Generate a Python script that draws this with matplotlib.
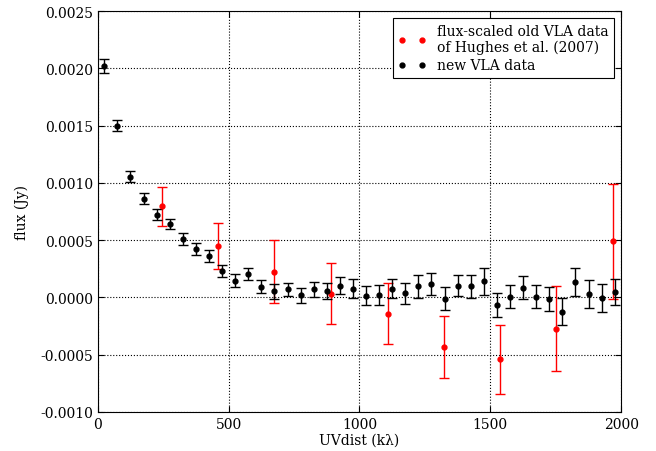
import matplotlib
matplotlib.use("Agg")
import matplotlib.pyplot as plt
from matplotlib.lines import Line2D

plt.rcParams['font.family'] = ['DejaVu Serif']
plt.rcParams['xtick.direction'] = 'in'
plt.rcParams['ytick.direction'] = 'in'
plt.rcParams['xtick.top'] = True
plt.rcParams['ytick.right'] = True

# new VLA data
uv_new = [25, 75, 125, 175, 225, 275, 325, 375, 425, 475,
          525, 575, 625, 675, 725, 775, 825, 875, 925, 975,
          1025, 1075, 1125, 1175, 1225, 1275, 1325, 1375, 1425, 1475,
          1525, 1575, 1625, 1675, 1725, 1775, 1825, 1875, 1925, 1975]
flux_new = [0.00202, 0.00150, 0.001055, 0.00086, 0.000723, 0.00064, 0.00051, 0.000425, 0.000358, 0.00023,
            0.000145, 0.000205, 0.000095, 0.000052, 0.00007, 0.00002, 0.00007, 0.00006, 0.000104, 0.000078,
            0.000014, 0.000023, 0.000078, 0.000037, 0.000098, 0.000115, -0.00001, 0.000103, 0.000098, 0.00014,
            -0.000066, 0.000006, 0.000086, 0.000006, -0.000011, -0.000124, 0.000135, 0.000032, -0.000006, 0.000049]
err_new = [0.000062, 0.000046, 0.000045, 0.000048, 0.000046, 0.000046, 0.000049, 0.000052, 0.000052, 0.000055,
           0.000056, 0.000056, 0.00006, 0.000062, 0.00006, 0.000066, 0.000068, 0.00007, 0.000074, 0.00008,
           0.000082, 0.000086, 0.00008, 0.000093, 0.0001, 0.000095, 0.0001, 0.000093, 0.0001, 0.00012,
           0.000106, 0.0001, 0.0001, 0.0001, 0.000105, 0.00012, 0.00012, 0.00012, 0.00012, 0.000115]

# flux-scaled old VLA data (Hughes et al. 2007)
uv_old = [245, 461, 675, 890, 1108, 1323, 1537, 1752, 1967]
flux_old = [0.000795, 0.00045, 0.000225, 0.000033, -0.000144, -0.00043, -0.00054, -0.000273, 0.00049]
err_old = [0.000173, 0.000204, 0.000273, 0.000267, 0.000266, 0.00027, 0.0003, 0.00037, 0.0005]

fig = plt.figure(figsize=(6.56, 4.52), dpi=100)
ax = fig.add_axes([0.149, 0.0863, 0.798, 0.887])

ax.errorbar(uv_old, flux_old, yerr=err_old, fmt='o', color='r', ms=3.5,
            capsize=3.5, elinewidth=1)
ax.errorbar(uv_new, flux_new, yerr=err_new, fmt='o', color='k', ms=3.5,
            capsize=3.5, elinewidth=1)

ax.set_xlim(0, 2000)
ax.set_ylim(-0.0010, 0.0025)
ax.set_xticks([0, 500, 1000, 1500, 2000])
ax.set_yticks([-0.0010, -0.0005, 0.0000, 0.0005, 0.0010, 0.0015, 0.0020, 0.0025])
ax.yaxis.set_major_formatter(matplotlib.ticker.FormatStrFormatter('%.4f'))
ax.grid(True, color='k', linestyle=':', linewidth=0.8)
ax.tick_params(labelsize=10, length=4)

ax.set_xlabel('UVdist (kλ)', fontsize=10, labelpad=1)
ax.set_ylabel('flux (Jy)', fontsize=10, labelpad=8)

handles = [Line2D([], [], ls='none', marker='o', color='r', ms=3.5),
           Line2D([], [], ls='none', marker='o', color='k', ms=3.5)]
labels = ['flux-scaled old VLA data\nof Hughes et al. (2007)', 'new VLA data']
leg = ax.legend(handles, labels, loc='upper right', numpoints=2, fontsize=10,
                fancybox=False, framealpha=1, edgecolor='k', handlelength=2,
                borderaxespad=0.5, labelspacing=0.3)
leg.get_frame().set_linewidth(0.8)

fig.savefig('out.png', dpi=100)
